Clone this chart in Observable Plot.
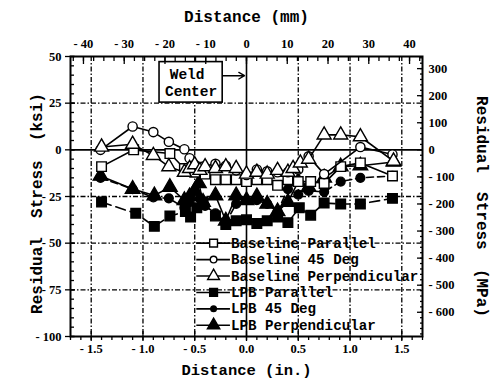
<!DOCTYPE html>
<html><head><meta charset="utf-8">
<script src="https://cdn.jsdelivr.net/npm/d3@7"></script>
<script src="https://cdn.jsdelivr.net/npm/@observablehq/plot@0.6"></script>
<style>
body{margin:0;background:#fff;}
</style></head><body><div id="chart"></div>
<script>
// ---- data (x in inches, y in ksi) ----
const seriesNames = ["Baseline Parallel","Baseline 45 Deg","Baseline Perpendicular","LPB Parallel","LPB 45 Deg","LPB Perpendicular"];

const baseParX = [-1.40,-1.09,-0.74,-0.60,-0.50,-0.40,-0.30,-0.20,-0.10,0.00,0.10,0.20,0.30,0.40,0.50,0.62,0.75,0.91,1.10,1.41];
const baseParY = [-9,0,-2,-10,-12,-13,-16,-16,-16,-17,-16,-16,-19,-16,-17,-17,-18,-9,-7,-14];

const base45X = [-1.41,-1.10,-0.90,-0.75,-0.60,-0.55,-0.50,-0.42,-0.30,-0.20,-0.10,0.00,0.10,0.20,0.30,0.40,0.50,0.60,0.75,1.10,1.41];
const base45Y = [0,12.5,9.5,4.3,0.3,-4.5,-8,-9,-7.5,-8.5,-11,-13.5,-10.5,-11.5,-12,-12,-10.5,-3.5,-13,1.5,-2.5];

const basePerpX = [-1.40,-1.10,-0.90,-0.75,-0.60,-0.55,-0.50,-0.45,-0.40,-0.30,-0.20,-0.10,0.00,0.10,0.20,0.30,0.40,0.45,0.52,0.60,0.75,0.91,1.10,1.42];
const basePerpY = [1.5,3,-3,-9,-12,-10,-8,-11,-9,-10,-9,-10,-13,-12,-13,-11,-12,-10,-7,-5,8,8,7,-6];

const lpbParX = [-1.40,-1.07,-0.89,-0.74,-0.59,-0.54,-0.48,-0.42,-0.30,-0.20,-0.10,0.00,0.10,0.20,0.30,0.40,0.51,0.62,0.75,0.91,1.10,1.41];
const lpbParY = [-28,-34,-41,-35.5,-33,-36,-31,-28,-35.5,-40,-38,-37.5,-39.5,-38,-36,-39,-31,-35,-28.5,-29,-29,-26];

const lpb45X = [-1.41,-1.10,-0.90,-0.75,-0.60,-0.55,-0.50,-0.45,-0.40,-0.30,-0.20,-0.10,0.00,0.10,0.20,0.30,0.40,0.50,0.60,0.75,0.91,1.10,1.41];
const lpb45Y = [-15,-21,-25.5,-26,-31,-28,-22,-26,-30,-34,-39,-29,-27,-27,-29,-33,-21,-24,-22,-22.5,-17,-15,-14];

const lpbPerpX = [-1.41,-1.10,-0.89,-0.74,-0.60,-0.55,-0.50,-0.46,-0.42,-0.30,-0.20,-0.10,0.00,0.10,0.20,0.30,0.40,0.50,0.60,0.75,0.91,1.10,1.42];
const lpbPerpY = [-14,-21,-24.5,-20,-27,-25,-22,-18,-28,-24.5,-38,-24.5,-27,-25,-29,-33,-28,-17,-20,-15,-9,-8.5,-6.5];

// tick labels
const inchTicks = [-1.5,-1.0,-0.5,0.0,0.5,1.0,1.5];
const mmTicks = [-40,-30,-20,-10,0,10,20,30,40];
const ksiTicks = [50,25,0,-25,-50,-75,-100];
const mpaTicks = [300,200,100,0,-100,-200,-300,-400,-500,-600];
const titleTop = "Distance (mm)";
const titleBottom = "Distance (in.)";
const titleLeft = "Residual  Stress  (ksi)";
const titleRight = "Residual  Stress  (MPa)";
const weldLines = ["Weld", "Center"];

// ---- layout / style ----
const MM_PER_IN = 25.4, MPA_PER_KSI = 6.895;
const styles = [
  {symbol:"square",   fill:"white", r:5.4, lr:4.4, dash:null},
  {symbol:"circle",   fill:"white", r:4.6, lr:3.3, dash:null},
  {symbol:"triangle", fill:"white", r:5.2, lr:4.4, dash:null},
  {symbol:"square",   fill:"black", r:5.4, lr:4.4, dash:"10,5"},
  {symbol:"circle",   fill:"black", r:4.4, lr:2.8, dash:"7,4"},
  {symbol:"triangle", fill:"black", r:5.4, lr:4.6, dash:null}
];
const xs = [baseParX, base45X, basePerpX, lpbParX, lpb45X, lpbPerpX];
const ys = [baseParY, base45Y, basePerpY, lpbParY, lpb45Y, lpbPerpY];
const series = seriesNames.map((name, i) => ({
  name, ...styles[i],
  pts: xs[i].map((x, j) => ({x, y: ys[i][j]}))
}));

// legend layout (data units)
const legX1 = -0.48, legX2 = -0.155, legMark = -0.318, legText = -0.15, legTop = -50, legStep = 8.8;
const legendRows = seriesNames.map((name, i) => ({name, i, y: legTop - i * legStep}));
// weld-centre annotation (data units)
const box = {x1: -0.84, x2: -0.23, y1: 25.3, y2: 47};
const arrow = {x1: -0.23, x2: 0, y: 39.7};

const FONT = "'Liberation Mono', monospace";
const NUMFONT = "'Liberation Serif', serif";
const fmtNum = (v, dec) => { const s = Math.abs(v).toFixed(dec); return v < 0 ? "- " + s : s; };
const noText = () => "";
const numStyle = {fontFamily: NUMFONT, fontWeight: "bold", fontSize: 12.5, label: null};
const titleStyle = {text: d => d, fontFamily: FONT, fontWeight: "bold", fontSize: 16, textAnchor: "middle", lineAnchor: "middle"};

const gridStyle = {stroke: "black", strokeWidth: 1.3, strokeDasharray: "5,2,1.5,2"};

const marks = [
  Plot.ruleX(inchTicks.filter(d => d !== 0), {x: d => d, ...gridStyle}),
  Plot.ruleY(ksiTicks.filter(d => d !== 0 && d !== 50 && d !== -100), {y: d => d, ...gridStyle}),
  Plot.ruleX([0], {x: d => d, stroke: "black", strokeWidth: 1.6}),
  Plot.ruleY([0], {y: d => d, stroke: "black", strokeWidth: 1.6}),
  // weld center box & arrow
  Plot.rect([box], {x1: "x1", x2: "x2", y1: "y1", y2: "y2", fill: "white", stroke: "black", strokeWidth: 1.6}),
  Plot.text([weldLines[0]], {x: (box.x1 + box.x2) / 2, y: 40.2, text: d => d, dx: -4, fontFamily: FONT, fontWeight: "bold", fontSize: 14.5}),
  Plot.text([weldLines[1]], {x: (box.x1 + box.x2) / 2, y: 31.5, text: d => d, fontFamily: FONT, fontWeight: "bold", fontSize: 14.5}),
  Plot.arrow([arrow], {x1: "x1", x2: "x2", y1: "y", y2: "y", stroke: "black", strokeWidth: 1.4, headLength: 7, insetEnd: 2})
];

// data series: LPB first, baseline on top
[3, 4, 5, 0, 1, 2].forEach(i => {
  const s = series[i];
  marks.push(Plot.line(s.pts, {x: "x", y: "y", stroke: "black", strokeWidth: 1.6, strokeDasharray: s.dash}));
  marks.push(Plot.dot(s.pts, {x: "x", y: "y", symbol: s.symbol, r: s.r, fill: s.fill, stroke: "black", strokeWidth: 1.4}));
});

// legend
marks.push(Plot.ruleY(legendRows, {y: "y", x1: legX1, x2: legX2, stroke: "black", strokeWidth: 1.6}));
legendRows.forEach(row => {
  const s = series[row.i];
  marks.push(Plot.dot([row], {x: legMark, y: "y", symbol: s.symbol, r: s.lr, fill: s.fill, stroke: "black", strokeWidth: 1.4}));
});
marks.push(Plot.text(legendRows, {x: legText, y: "y", text: "name", textAnchor: "start", fontFamily: FONT, fontWeight: "bold", fontSize: 14.2}));

// frame and axes
marks.push(
  Plot.frame({stroke: "black", strokeWidth: 2}),
  // bottom (inches)
  Plot.axisX({anchor: "bottom", ticks: d3.range(-17, 18).map(d => d / 10), tickSize: 4, tickFormat: noText, label: null, strokeWidth: 1.3}),
  Plot.axisX({anchor: "bottom", ticks: inchTicks, tickSize: 10, dy: -5, tickFormat: noText, label: null, strokeWidth: 1.3}),
  Plot.axisX({anchor: "bottom", ticks: inchTicks, tickSize: 0, tickPadding: 8, tickFormat: d => fmtNum(d, 1), ...numStyle}),
  // top (mm)
  Plot.axisX({anchor: "top", ticks: d3.range(-42.5, 43, 2.5).map(m => m / MM_PER_IN), tickSize: 4, dy: 4, tickFormat: noText, label: null, strokeWidth: 1.3}),
  Plot.axisX({anchor: "top", ticks: mmTicks.map(m => m / MM_PER_IN), tickSize: 7, dy: 7, tickFormat: noText, label: null, strokeWidth: 1.3}),
  Plot.axisX({anchor: "top", ticks: mmTicks.map(m => m / MM_PER_IN), tickSize: 0, tickPadding: 9, tickFormat: d => fmtNum(Math.round(d * MM_PER_IN), 0), ...numStyle}),
  // left (ksi)
  Plot.axisY({anchor: "left", ticks: d3.range(-100, 51, 5), tickSize: 4, dx: 4, tickFormat: noText, label: null, strokeWidth: 1.3}),
  Plot.axisY({anchor: "left", ticks: ksiTicks, tickSize: 10, dx: 5, tickFormat: noText, label: null, strokeWidth: 1.3}),
  Plot.axisY({anchor: "left", ticks: ksiTicks, tickSize: 0, tickPadding: 9, tickFormat: d => fmtNum(d, 0), ...numStyle}),
  // right (MPa)
  Plot.axisY({anchor: "right", ticks: d3.range(-680, 341, 20).map(m => m / MPA_PER_KSI), tickSize: 3, dx: -3, tickFormat: noText, label: null, strokeWidth: 1.3}),
  Plot.axisY({anchor: "right", ticks: mpaTicks.map(m => m / MPA_PER_KSI), tickSize: 6, dx: -6, tickFormat: noText, label: null, strokeWidth: 1.3}),
  Plot.axisY({anchor: "right", ticks: mpaTicks.map(m => m / MPA_PER_KSI), tickSize: 0, tickPadding: 6, textAnchor: "start", tickFormat: d => fmtNum(Math.round(d * MPA_PER_KSI / 10) * 10, 0), ...numStyle}),
  // titles
  Plot.text([titleTop], {frameAnchor: "top", dy: -40, ...titleStyle}),
  Plot.text([titleBottom], {frameAnchor: "bottom", dy: 34, ...titleStyle, fontSize: 15.5}),
  Plot.text([titleLeft], {frameAnchor: "left", dx: -34, dy: 7, rotate: -90, ...titleStyle}),
  Plot.text([titleRight], {frameAnchor: "right", dx: 60, dy: 10, rotate: 90, ...titleStyle})
);

const chart = Plot.plot({
  width: 492, height: 381,
  marginLeft: 70, marginRight: 70, marginTop: 56, marginBottom: 45,
  x: {domain: [-1.7, 1.7]},
  y: {domain: [-100, 50]},
  style: {background: "white", color: "black", overflow: "visible"},
  marks
});
document.getElementById("chart").appendChild(chart);
</script></body></html>
